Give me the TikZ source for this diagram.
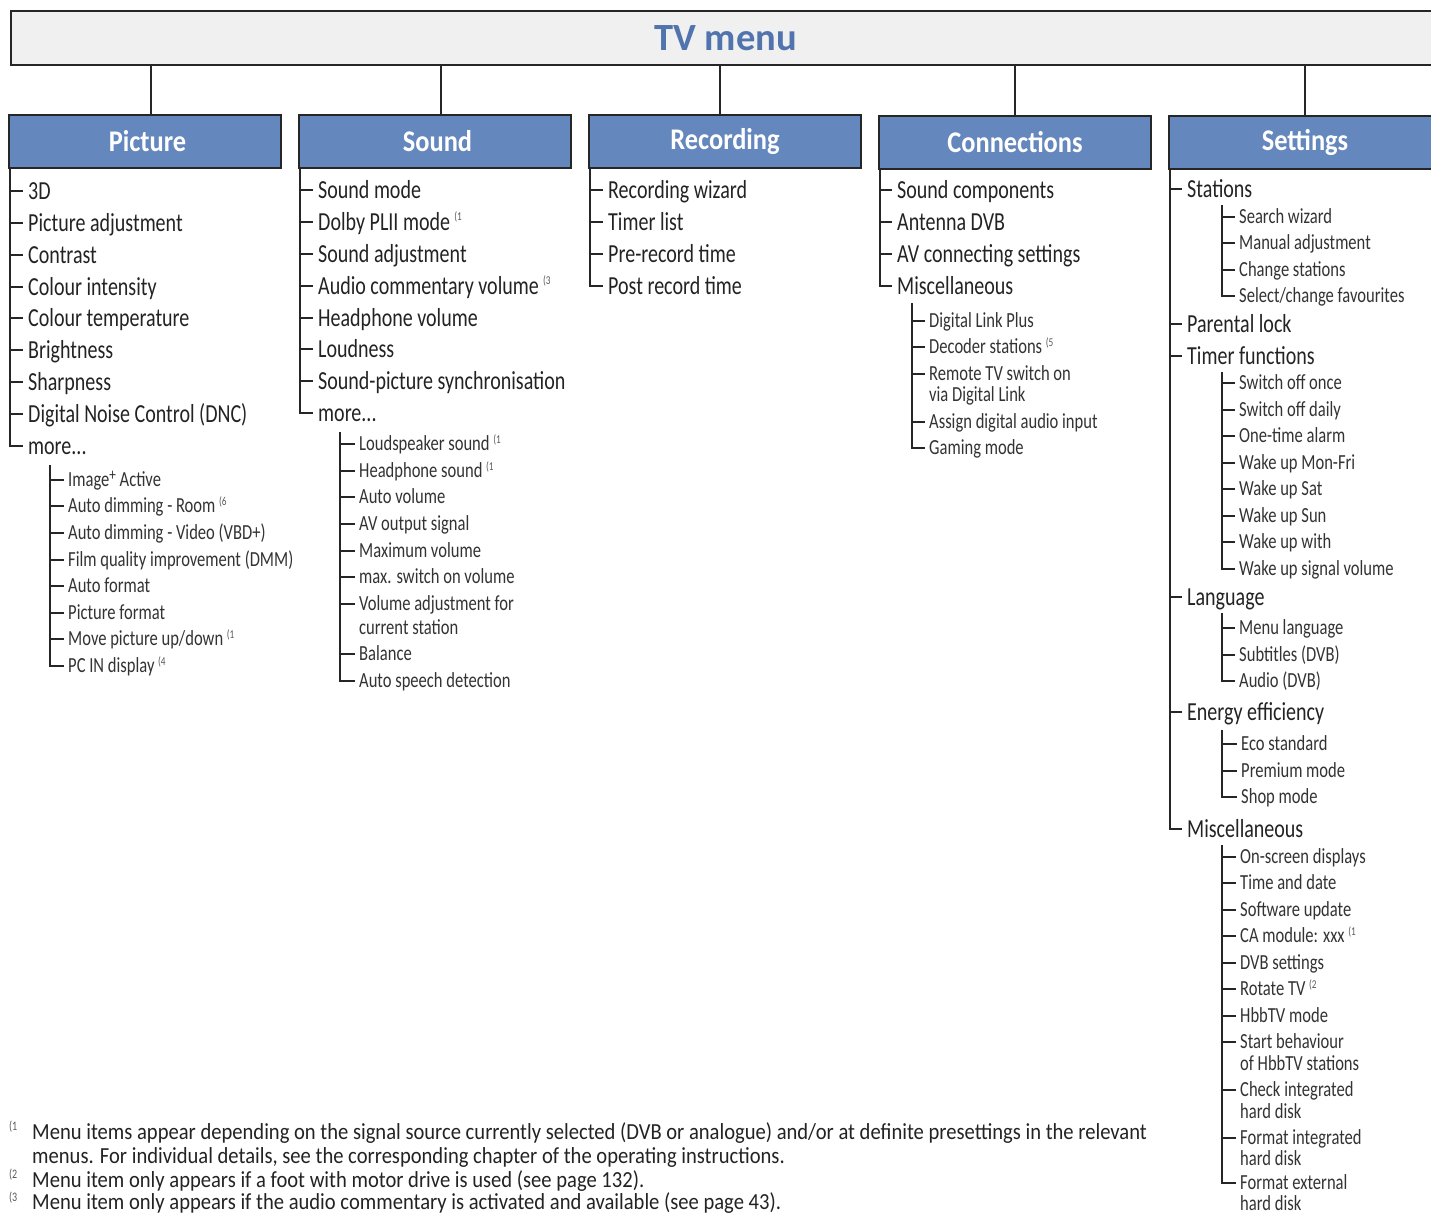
\documentclass[tikz,border=0pt]{standalone}
\usepackage{fontspec}
\setmainfont{Carlito}
\newfontfamily\itemfont[FakeStretch=0.77]{Carlito}
\newfontfamily\notefont[FakeStretch=0.895]{Carlito}
\newfontfamily\hdrfont[FakeStretch=0.88]{Carlito}
\newfontfamily\titlefont{Carlito}
\definecolor{hdrblue}{HTML}{6487BE}
\definecolor{titleblue}{HTML}{5173AE}
\definecolor{titlefill}{HTML}{F0F0F0}
\definecolor{linec}{HTML}{262626}
\definecolor{txt}{HTML}{232323}
\definecolor{subtxt}{HTML}{333333}
\definecolor{supgray}{HTML}{5A5A5A}
\newcommand\fnm[1]{\,\raisebox{.36em}{\color{supgray}\fontsize{12}{12}\selectfont(#1}}
\tikzset{
  titlebox/.style={draw=linec, line width=2.5pt, fill=titlefill, minimum width=1429pt, minimum height=54pt, inner sep=0pt,
     text=titleblue, font=\titlefont\bfseries\fontsize{38.5}{40}\selectfont},
  hdr/.style={draw=linec, line width=2.5pt, fill=hdrblue, minimum width=272pt, minimum height=53pt, inner sep=0pt,
     text=white, font=\hdrfont\bfseries\fontsize{30}{32}\selectfont},
  conn/.style={draw=linec, line width=2.2pt},
  lvA/.style={anchor=west, inner sep=0pt, text height=16.7pt, text depth=0pt, text=txt,
     font=\itemfont\fontsize{26}{28}\selectfont},
  lvB/.style={anchor=west, inner sep=0pt, text height=13.8pt, text depth=0pt, text=subtxt,
     font=\itemfont\fontsize{21.5}{24}\selectfont},
  fnote/.style={anchor=west, inner sep=0pt, text height=14.8pt, text depth=0pt, text=txt,
     font=\notefont\fontsize{23}{25}\selectfont},
  fmark/.style={anchor=west, inner sep=0pt, text=supgray, font=\itemfont\fontsize{13}{13}\selectfont},
  trunkA/.style={draw=linec, line width=2pt, shorten >=5pt},
  tickA/.style={draw=linec, line width=2pt, shorten >=5pt},
  trunkB/.style={draw=linec, line width=1.4pt, shorten >=4pt},
  tickB/.style={draw=linec, line width=1.4pt, shorten >=4pt},
}
\begin{document}
\begin{tikzpicture}[x=1pt,y=-1pt]
\clip (0,0) rectangle (1431,1213);
\fill[white] (0,0) rectangle (1431,1213);

% title and headers
\node[titlebox] (title) at (725.5,38) {TV menu};
\node[hdr] (hpic) at (145,141.5) {\hspace*{5pt}Picture};
\node[hdr] (hsnd) at (435,141.5) {\hspace*{5pt}Sound};
\node[hdr] (hrec) at (725,141.5) {Recording};
\node[hdr] (hcon) at (1015,142.5) {Connections};
\node[hdr] (hset) at (1305,142.5) {Settings};
\draw[conn] ([xshift=6pt]hpic.north) -- ([xshift=6pt]hpic.north |- title.south);
\draw[conn] ([xshift=6pt]hsnd.north) -- ([xshift=6pt]hsnd.north |- title.south);
\draw[conn] ([xshift=-5pt]hrec.north) -- ([xshift=-5pt]hrec.north |- title.south);
\draw[conn] (hcon.north) -- (hcon.north |- title.south);
\draw[conn] (hset.north) -- (hset.north |- title.south);

% ---------- Picture ----------
\node[lvA] (p1) at (28,191) {3D};
\node[lvA] (p2) at (28,223) {Picture adjustment};
\node[lvA] (p3) at (28,255) {Contrast};
\node[lvA] (p4) at (28,287) {Colour intensity};
\node[lvA] (p5) at (28,318) {Colour temperature};
\node[lvA] (p6) at (28,350) {Brightness};
\node[lvA] (p7) at (28,382) {Sharpness};
\node[lvA] (p8) at (28,414) {Digital Noise Control (DNC)};
\node[lvA] (p9) at (28,446) {more...};
\coordinate (pT) at (10,168);
\draw[trunkA] (pT) |- (p9.west);
\foreach \n in {p1,p2,p3,p4,p5,p6,p7,p8} \draw[tickA] (\n.west -| pT) -- (\n.west);

\node[lvB] (ps1) at (68,480) {Image\raisebox{.3em}{\fontsize{17}{17}\selectfont+} Active};
\node[lvB] (ps2) at (68,506) {Auto dimming - Room\fnm{6}};
\node[lvB] (ps3) at (68,533) {Auto dimming - Video (VBD+)};
\node[lvB] (ps4) at (68,560) {Film quality improvement (DMM)};
\node[lvB] (ps5) at (68,586) {Auto format};
\node[lvB] (ps6) at (68,613) {Picture format};
\node[lvB] (ps7) at (68,639) {Move picture up/down\fnm{1}};
\node[lvB] (ps8) at (68,666) {PC IN display\fnm{4}};
\coordinate (psT) at (50,465);
\draw[trunkB] (psT) |- (ps8.west);
\foreach \n in {ps1,ps2,ps3,ps4,ps5,ps6,ps7} \draw[tickB] (\n.west -| psT) -- (\n.west);

% ---------- Sound ----------
\node[lvA] (s1) at (318,190) {Sound mode};
\node[lvA] (s2) at (318,222) {Dolby PLII mode\fnm{1}};
\node[lvA] (s3) at (318,254) {Sound adjustment};
\node[lvA] (s4) at (318,286) {Audio commentary volume\fnm{3}};
\node[lvA] (s5) at (318,318) {Headphone volume};
\node[lvA] (s6) at (318,349) {Loudness};
\node[lvA] (s7) at (318,381) {Sound-picture synchronisation};
\node[lvA] (s8) at (318,413) {more...};
\coordinate (sT) at (300,168);
\draw[trunkA] (sT) |- (s8.west);
\foreach \n in {s1,s2,s3,s4,s5,s6,s7} \draw[tickA] (\n.west -| sT) -- (\n.west);

\node[lvB] (ss1) at (359,444) {Loudspeaker sound\fnm{1}};
\node[lvB] (ss2) at (359,471) {Headphone sound\fnm{1}};
\node[lvB] (ss3) at (359,497) {Auto volume};
\node[lvB] (ss4) at (359,524) {AV output signal};
\node[lvB] (ss5) at (359,551) {Maximum volume};
\node[lvB] (ss6) at (359,577) {max. switch on volume};
\node[lvB] (ss7) at (359,604) {Volume adjustment for};
\node[lvB] (ss7b) at (359,628) {current station};
\node[lvB] (ss8) at (359,654) {Balance};
\node[lvB] (ss9) at (359,681) {Auto speech detection};
\coordinate (ssT) at (340,432);
\draw[trunkB] (ssT) |- (ss9.west);
\foreach \n in {ss1,ss2,ss3,ss4,ss5,ss6,ss7,ss8} \draw[tickB] (\n.west -| ssT) -- (\n.west);

% ---------- Recording ----------
\node[lvA] (r1) at (608,190) {Recording wizard};
\node[lvA] (r2) at (608,222) {Timer list};
\node[lvA] (r3) at (608,254) {Pre-record time};
\node[lvA] (r4) at (608,286) {Post record time};
\coordinate (rT) at (590,168);
\draw[trunkA] (rT) |- (r4.west);
\foreach \n in {r1,r2,r3} \draw[tickA] (\n.west -| rT) -- (\n.west);

% ---------- Connections ----------
\node[lvA] (c1) at (897,190) {Sound components};
\node[lvA] (c2) at (897,222) {Antenna DVB};
\node[lvA] (c3) at (897,254) {AV connecting settings};
\node[lvA] (c4) at (897,286) {Miscellaneous};
\coordinate (cT) at (880,169);
\draw[trunkA] (cT) |- (c4.west);
\foreach \n in {c1,c2,c3} \draw[tickA] (\n.west -| cT) -- (\n.west);

\node[lvB] (cs1) at (929,321) {Digital Link Plus};
\node[lvB] (cs2) at (929,347) {Decoder stations\fnm{5}};
\node[lvB] (cs3) at (929,374) {Remote TV switch on};
\node[lvB] (cs3b) at (929,395) {via Digital Link};
\node[lvB] (cs4) at (929,422) {Assign digital audio input};
\node[lvB] (cs5) at (929,448) {Gaming mode};
\coordinate (csT) at (912,303);
\draw[trunkB] (csT) |- (cs5.west);
\foreach \n in {cs1,cs2,cs3,cs4} \draw[tickB] (\n.west -| csT) -- (\n.west);

% ---------- Settings ----------
\node[lvA] (t1) at (1187,189) {Stations};
\node[lvA] (t2) at (1187,324) {Parental lock};
\node[lvA] (t3) at (1187,356) {Timer functions};
\node[lvA] (t4) at (1187,597) {Language};
\node[lvA] (t5) at (1187,712) {Energy efficiency};
\node[lvA] (t6) at (1187,829) {Miscellaneous};
\coordinate (tT) at (1170,169);
\draw[trunkA] (tT) |- (t6.west);
\foreach \n in {t1,t2,t3,t4,t5} \draw[tickA] (\n.west -| tT) -- (\n.west);

\node[lvB] (ta1) at (1239,217) {Search wizard};
\node[lvB] (ta2) at (1239,243) {Manual adjustment};
\node[lvB] (ta3) at (1239,270) {Change stations};
\node[lvB] (ta4) at (1239,296) {Select/change favourites};
\coordinate (taT) at (1222,205);
\draw[trunkB] (taT) |- (ta4.west);
\foreach \n in {ta1,ta2,ta3} \draw[tickB] (\n.west -| taT) -- (\n.west);

\node[lvB] (tb1) at (1239,383) {Switch off once};
\node[lvB] (tb2) at (1239,410) {Switch off daily};
\node[lvB] (tb3) at (1239,436) {One-time alarm};
\node[lvB] (tb4) at (1239,463) {Wake up Mon-Fri};
\node[lvB] (tb5) at (1239,489) {Wake up Sat};
\node[lvB] (tb6) at (1239,516) {Wake up Sun};
\node[lvB] (tb7) at (1239,542) {Wake up with};
\node[lvB] (tb8) at (1239,569) {Wake up signal volume};
\coordinate (tbT) at (1222,372);
\draw[trunkB] (tbT) |- (tb8.west);
\foreach \n in {tb1,tb2,tb3,tb4,tb5,tb6,tb7} \draw[tickB] (\n.west -| tbT) -- (\n.west);

\node[lvB] (tc1) at (1239,628) {Menu language};
\node[lvB] (tc2) at (1239,655) {Subtitles (DVB)};
\node[lvB] (tc3) at (1239,681) {Audio (DVB)};
\coordinate (tcT) at (1222,613);
\draw[trunkB] (tcT) |- (tc3.west);
\foreach \n in {tc1,tc2} \draw[tickB] (\n.west -| tcT) -- (\n.west);

\node[lvB] (td1) at (1241,744) {Eco standard};
\node[lvB] (td2) at (1241,771) {Premium mode};
\node[lvB] (td3) at (1241,797) {Shop mode};
\coordinate (tdT) at (1222,730);
\draw[trunkB] (tdT) |- (td3.west);
\foreach \n in {td1,td2} \draw[tickB] (\n.west -| tdT) -- (\n.west);

\node[lvB] (te1) at (1240,857) {On-screen displays};
\node[lvB] (te2) at (1240,883) {Time and date};
\node[lvB] (te3) at (1240,910) {Software update};
\node[lvB] (te4) at (1240,936) {CA module: xxx\fnm{1}};
\node[lvB] (te5) at (1240,963) {DVB settings};
\node[lvB] (te6) at (1240,989) {Rotate TV\fnm{2}};
\node[lvB] (te7) at (1240,1016) {HbbTV mode};
\node[lvB] (te8) at (1240,1042) {Start behaviour};
\node[lvB] (te8b) at (1240,1064) {of HbbTV stations};
\node[lvB] (te9) at (1240,1090) {Check integrated};
\node[lvB] (te9b) at (1240,1112) {hard disk};
\node[lvB] (te10) at (1240,1138) {Format integrated};
\node[lvB] (te10b) at (1240,1159) {hard disk};
\node[lvB] (te11) at (1240,1183) {Format external};
\node[lvB] (te11b) at (1240,1203.5) {hard disk};
\coordinate (teT) at (1222,845);
\draw[trunkB] (teT) |- (te11.west);
\foreach \n in {te1,te2,te3,te4,te5,te6,te7,te8,te9,te10} \draw[tickB] (\n.west -| teT) -- (\n.west);

% ---------- footnotes ----------
\node[fmark] (m1) at (9,1127) {(1};
\node[fmark] (m2) at (9,1175) {(2};
\node[fmark] (m3) at (9,1198) {(3};
\node[fnote] (f1) at (32,1132) {Menu items appear depending on the signal source currently selected (DVB or analogue) and/or at definite presettings in the relevant};
\node[fnote] (f1b) at (32,1156) {menus. For individual details, see the corresponding chapter of the operating instructions.};
\node[fnote] (f2) at (32,1180) {Menu item only appears if a foot with motor drive is used (see page 132).};
\node[fnote] (f3) at (32,1202) {Menu item only appears if the audio commentary is activated and available (see page 43).};
\end{tikzpicture}
\end{document}
